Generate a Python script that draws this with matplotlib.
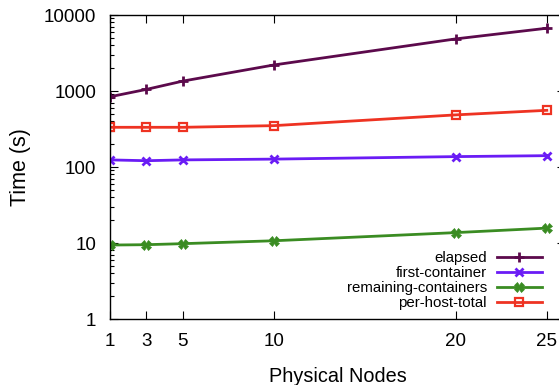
import numpy as np
import matplotlib.pyplot as plt
from matplotlib.ticker import LogLocator, NullFormatter, FixedLocator

plt.rcParams['font.family'] = ['Liberation Sans', 'DejaVu Sans']

# data
nodes = [1, 3, 5, 10, 20, 25]
elapsed = [840, 1050, 1350, 2200, 4850, 6700]
first_container = [124, 121, 124, 127, 137, 141]
remaining_containers = [9.4, 9.5, 9.8, 10.7, 13.7, 15.7]
per_host_total = [333, 333, 333, 350, 485, 557]

fig = plt.figure(figsize=(5.59, 3.85), dpi=100)
ax = fig.add_axes([110/559, 1 - 319/385, 455/559, 304/385])

ax.plot(nodes, elapsed, color='#5c0a4c', lw=2, marker='+', ms=7, mew=2, label='elapsed')
ax.plot(nodes, first_container, color='#6a1cf5', lw=2, marker='x', ms=6, mew=2, label='first-container')
ax.plot(nodes, remaining_containers, color='#3a8c22', lw=2, marker='X', ms=6.5, mew=0.5, label='remaining-containers')
ax.plot(nodes, per_host_total, color='#ee3322', lw=2, marker='s', ms=6, mew=1.6, mfc='none', label='per-host-total')

ax.set_yscale('log')
ax.set_ylim(1, 10000)
ax.set_xlim(1, 26)
ax.xaxis.set_major_locator(FixedLocator(nodes))
ax.yaxis.set_major_locator(FixedLocator([1, 10, 100, 1000, 10000]))
ax.set_yticklabels(['1', '10', '100', '1000', '10000'])
ax.yaxis.set_minor_locator(LogLocator(base=10, subs=np.arange(2, 10)))
ax.yaxis.set_minor_formatter(NullFormatter())

ax.tick_params(which='both', direction='in', top=True, right=True, labelsize=13.5, width=0.8)
ax.tick_params(which='major', length=6)
ax.tick_params(which='minor', length=3)
ax.tick_params(axis='x', pad=10)
ax.tick_params(axis='y', pad=10)
for s in ax.spines.values():
    s.set_linewidth(1)

ax.set_xlabel('Physical Nodes', fontsize=14.3, labelpad=12)
ax.set_ylabel('Time (s)', fontsize=15.5, labelpad=9)

ax.legend(loc='lower right', bbox_to_anchor=(549/559, 1 - 318/385), bbox_transform=fig.transFigure,
          frameon=False, markerfirst=False, fontsize=10.8, handlelength=2.95,
          labelspacing=0.08, borderpad=0, handletextpad=0.7)

fig.savefig('out.png', dpi=100)
